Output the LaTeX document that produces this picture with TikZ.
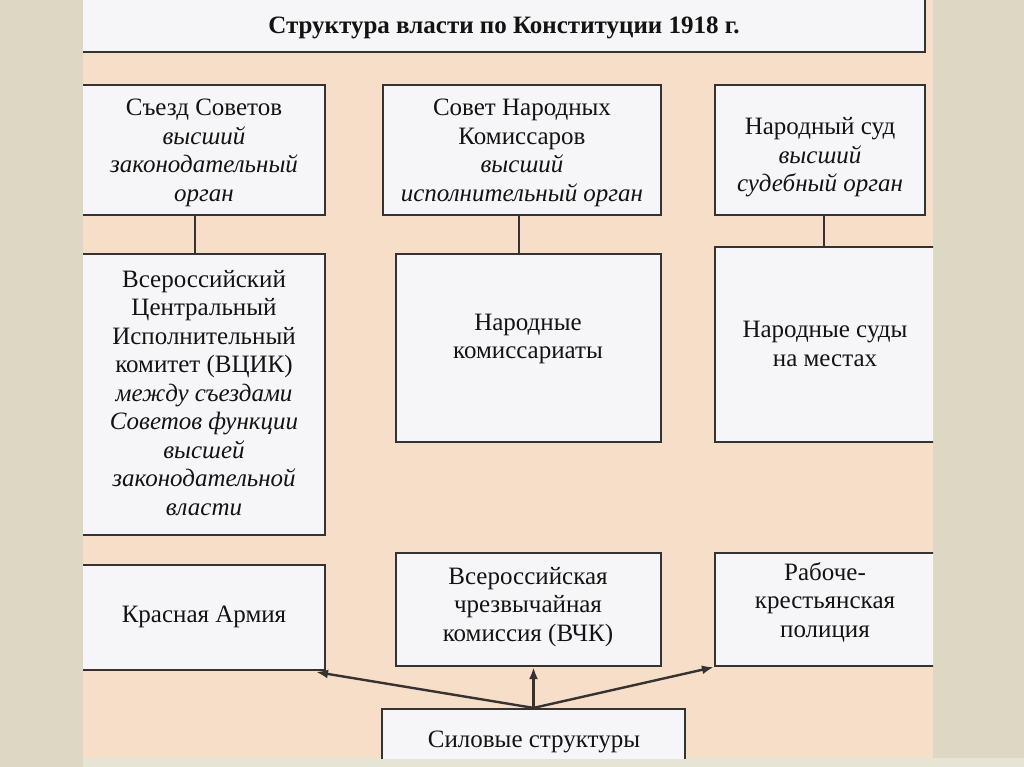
\documentclass[tikz,border=0pt]{standalone}
\usepackage{fontspec}
\setmainfont{Liberation Serif}
\usetikzlibrary{arrows.meta}
\definecolor{outerC}{RGB}{220,216,195}
\definecolor{stripC}{RGB}{230,228,212}
\definecolor{panelC}{RGB}{246,222,200}
\definecolor{boxC}{RGB}{246,246,248}
\definecolor{lineC}{RGB}{55,50,50}
\definecolor{textC}{RGB}{20,18,18}
\begin{document}
\begin{tikzpicture}[x=1pt,y=-1pt,
  box/.style={draw=lineC, line width=2.2pt, fill=boxC, inner sep=0pt},
  txt/.style={align=center, font=\fontsize{25}{28.5}\selectfont, inner sep=0pt, text=textC},
  conn/.style={draw=lineC, line width=1.8pt},
  arr/.style={draw=lineC, line width=2.4pt, -{Latex[length=12pt,width=9pt]}}]
\useasboundingbox (0,0) rectangle (1024,767);
\fill[outerC] (0,0) rectangle (1024,767);
\fill[stripC] (83,758) rectangle (1024,767);
\fill[panelC] (83,0) rectangle (933,758);
\begin{scope}
\clip (83,0) rectangle (933,758);
% boxes
\node[box, minimum width=843, minimum height=55] (t) at (503.5,24.5) {};
\node[box, minimum width=243, minimum height=130] (b1) at (203.5,150) {};
\node[box, minimum width=278, minimum height=130] (b2) at (522,150) {};
\node[box, minimum width=210, minimum height=130] (b3) at (820,150) {};
\node[box, minimum width=243, minimum height=281] (b4) at (203.5,394.5) {};
\node[box, minimum width=265, minimum height=188] (b5) at (528.5,348) {};
\node[box, minimum width=220, minimum height=195] (b6) at (825,344.5) {};
\node[box, minimum width=243, minimum height=105] (b7) at (203.5,617.5) {};
\node[box, minimum width=265, minimum height=113] (b8) at (528.5,609.5) {};
\node[box, minimum width=220, minimum height=113] (b9) at (825,609.5) {};
\node[box, minimum width=303, minimum height=56] (b10) at (533.5,737) {};
\end{scope}
% texts
\node[txt, font=\fontsize{25}{28}\selectfont\bfseries] (tt) at (504,28) {Структура власти по Конституции 1918 г.};
\node[txt] (t1) at (204,153) {Съезд Советов\\ \textit{высший}\\ \textit{законодательный}\\ \textit{орган}};
\node[txt] (t2) at (522,153) {Совет Народных\\ Комиссаров\\ \textit{высший}\\ \textit{исполнительный орган}};
\node[txt] (t3) at (820,157.5) {Народный суд\\ \textit{высший}\\ \textit{судебный орган}};
\node[txt] (t4) at (204,393) {Всероссийский\\ Центральный\\ Исполнительный\\ комитет (ВЦИК)\\ \textit{между съездами}\\ \textit{Советов функции}\\ \textit{высшей}\\ \textit{законодательной}\\ \textit{власти}};
\node[txt] (t5) at (528,339) {Народные\\ комиссариаты};
\node[txt] (t6) at (825,344) {Народные суды\\ на местах};
\node[txt] (t7) at (204,617) {Красная Армия};
\node[txt] (t8) at (528,607) {Всероссийская\\ чрезвычайная\\ комиссия (ВЧК)};
\node[txt] (t9) at (825,602) {Рабоче-\\ крестьянская\\ полиция};
\node[txt] (t10) at (534,742) {Силовые структуры};
% connectors
\coordinate (x1) at (195,0);
\coordinate (x2) at (519,0);
\coordinate (x3) at (824,0);
\draw[conn] (b1.south -| x1) -- (b4.north -| x1);
\draw[conn] (b2.south -| x2) -- (b5.north -| x2);
\draw[conn] (b3.south -| x3) -- (b6.north -| x3);
\coordinate (a1) at (316,672);
\draw[arr] (b10.north) -- (a1);
\draw[arr] (b10.north) -- (b8.south -| b10.north);
\draw[arr] (b10.north) -- (b9.south west);
\end{tikzpicture}
\end{document}
